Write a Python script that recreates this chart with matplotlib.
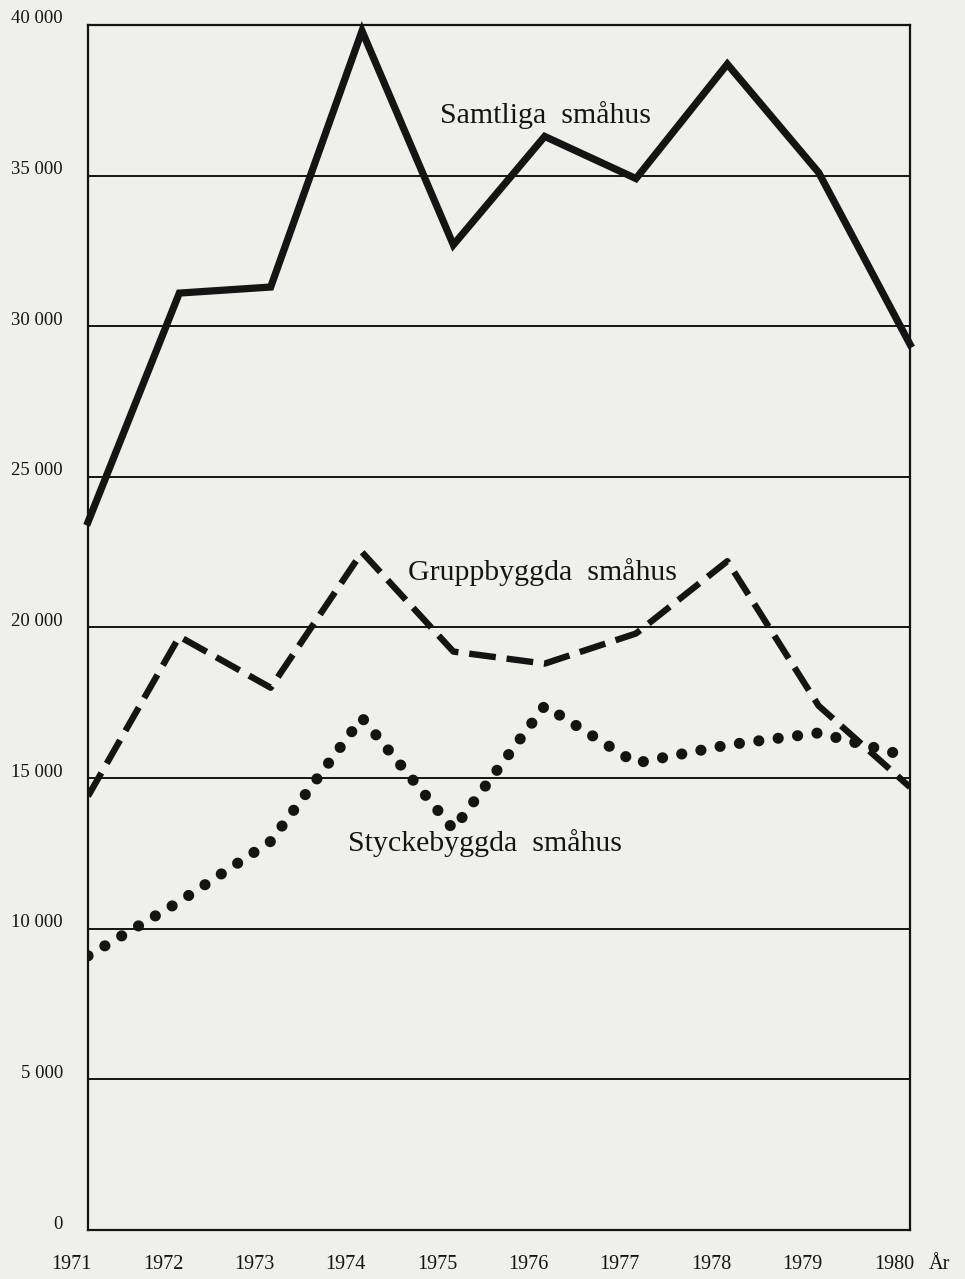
import numpy as np
import matplotlib.pyplot as plt
import matplotlib.transforms as mtransforms

plt.rcParams['font.family'] = ['Liberation Serif', 'DejaVu Serif']

# data (number of small houses per year)
years = [1971, 1972, 1973, 1974, 1975, 1976, 1977, 1978, 1979, 1980]
samtliga = [23500, 31100, 31300, 39800, 32700, 36300, 34900, 38700, 35100, 29400]
gruppbyggda = [14400, 19700, 18000, 22500, 19200, 18800, 19800, 22200, 17400, 14700]
styckebyggda = [9100, 10900, 12900, 17000, 13300, 17400, 15500, 16100, 16500, 15700]

yticks = [0, 5000, 10000, 15000, 20000, 25000, 30000, 35000, 40000]
ytick_labels = ["0", "5 000", "10 000", "15 000", "20 000", "25 000", "30 000", "35 000", "40 000"]

paper = '#efefec'
ink = '#141414'

fig = plt.figure(figsize=(9.65, 12.79), dpi=100, facecolor=paper)
ax = fig.add_axes([0.0912, 0.0383, 0.8518, 0.9422])
ax.set_facecolor(paper)

ax.set_xlim(years[0], years[-1])
ax.set_ylim(0, 40000)

# horizontal rules
for v in yticks[1:-1]:
    ax.axhline(v, color=ink, lw=1.4, zorder=1)
for s in ax.spines.values():
    s.set_color(ink)
    s.set_linewidth(1.6)

ax.plot(years, samtliga, color=ink, lw=5.2, solid_joinstyle='miter', zorder=3, clip_on=False)
ax.plot(years, gruppbyggda, color=ink, lw=4.6, linestyle=(0, (4.2, 1.7)),
        dash_capstyle='butt', zorder=3)
ax.plot(years, styckebyggda, color=ink, lw=8.0, linestyle=(0, (0.01, 1.75)),
        dash_capstyle='round', zorder=3)

ax.text(0.428, 0.925, "Samtliga  småhus", transform=ax.transAxes, fontsize=21.5,
        color=ink, va='center', ha='left')
ax.text(0.389, 0.546, "Gruppbyggda  småhus", transform=ax.transAxes, fontsize=21.5,
        color=ink, va='center', ha='left')
ax.text(0.316, 0.321, "Styckebyggda  småhus", transform=ax.transAxes, fontsize=21.5,
        color=ink, va='center', ha='left')

ax.set_yticks(yticks)
ax.set_yticklabels(ytick_labels, fontsize=13.5, color=ink)
ax.tick_params(axis='y', length=0, pad=18)
shift = mtransforms.ScaledTranslation(0, 0.08, fig.dpi_scale_trans)
for lab in ax.get_yticklabels():
    lab.set_transform(lab.get_transform() + shift)

ax.set_xticks(years)
ax.set_xticklabels([str(y) for y in years], fontsize=14.5, color=ink, ha='right')
ax.tick_params(axis='x', length=0, pad=18)
xshift = mtransforms.ScaledTranslation(0.04, 0, fig.dpi_scale_trans)
for lab in ax.get_xticklabels():
    lab.set_transform(lab.get_transform() + xshift)

fig.text(0.962, 0.011, "År", fontsize=14.5, color=ink, ha='left', va='center')

fig.savefig("out.png", dpi=100, facecolor=paper)
